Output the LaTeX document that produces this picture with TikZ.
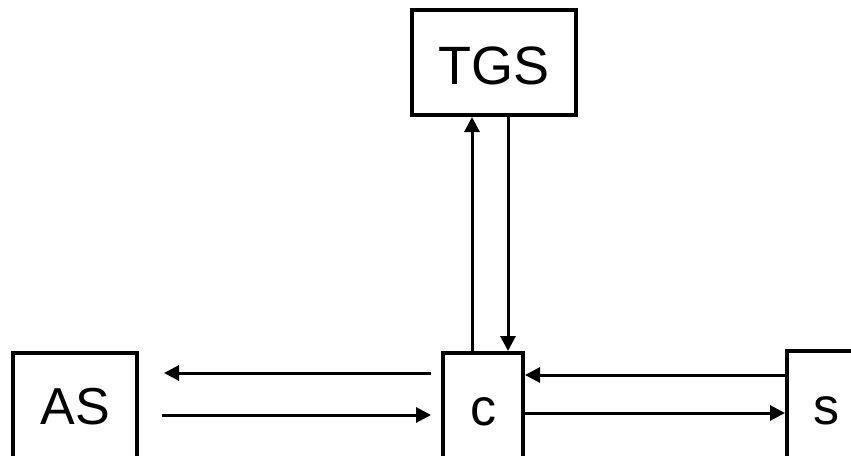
\documentclass[tikz,border=0pt]{standalone}
\usepackage{fontspec}
\setmainfont{Liberation Sans}
\usetikzlibrary{arrows.meta}
\begin{document}
\begin{tikzpicture}[x=1pt,y=-1pt,
  box/.style={draw,line width=4pt,rectangle,inner xsep=0pt,inner ysep=0pt,anchor=north,font=\fontsize{52}{52}\selectfont},
  link/.style={line width=3pt,-{Triangle[length=15pt,width=15pt]}}]
  \clip (0,0) rectangle (851,455);
  \fill[white] (0,0) rectangle (851,455);
  % servers and client
  \node[box,minimum width=164pt,text height=74pt,text depth=31pt,font=\fontsize{54}{54}\selectfont] (tgs) at (494,8) {TGS};
  \node[box,minimum width=124pt,text height=71pt,text depth=50pt] (as) at (75,351) {AS};
  \node[box,minimum width=80pt,text height=72pt,text depth=50pt] (c) at (483,351) {c};
  \node[box,minimum width=78pt,text height=73pt,text depth=50pt] (s) at (826,349) {s};
  % client <-> authentication server
  \draw[link,shorten <=10pt,shorten >=25pt] (c.west |- 0,373) -- (as.east |- 0,373);
  \draw[link,shorten <=23pt,shorten >=10pt] (as.east |- 0,415) -- (c.west |- 0,415);
  % client <-> ticket granting server
  \draw[link] (472,0 |- c.north) -- (472,0 |- tgs.south);
  \draw[link] (508,0 |- tgs.south) -- (508,0 |- c.north);
  % client <-> service
  \draw[link] (s.west |- 0,375) -- (c.east |- 0,375);
  \draw[link] (c.east |- 0,413) -- (s.west |- 0,413);
\end{tikzpicture}
\end{document}
